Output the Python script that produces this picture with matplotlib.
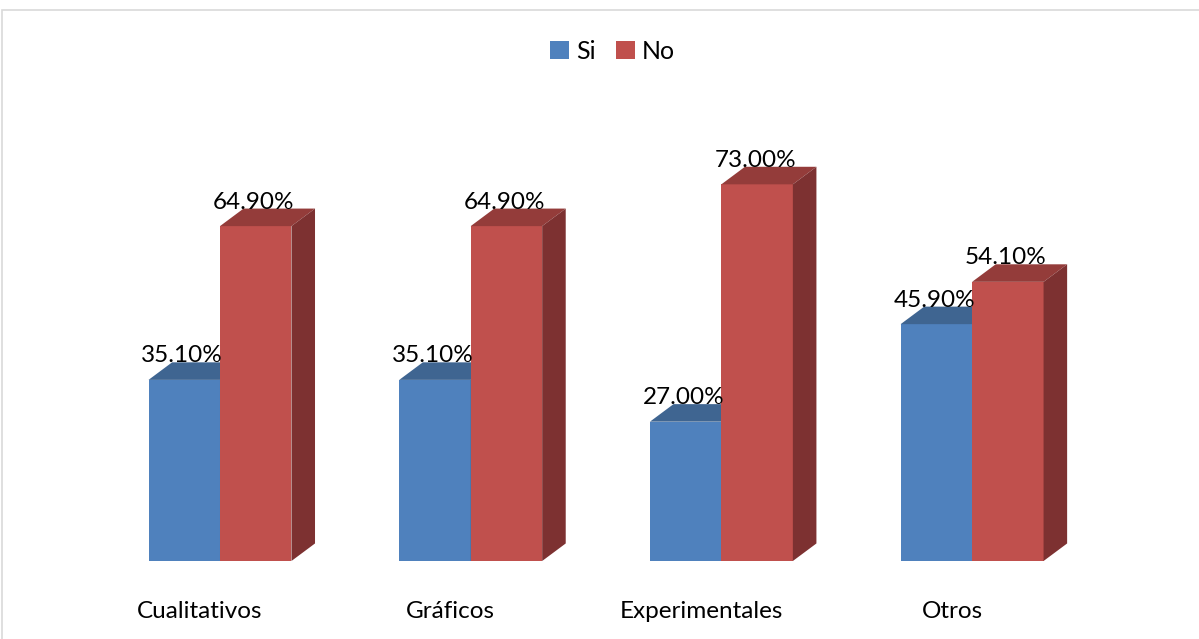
import numpy as np
import matplotlib.pyplot as plt
from matplotlib.patches import Polygon, Rectangle, Patch

plt.rcParams['font.family'] = ['Lato', 'DejaVu Sans']

# datos
categorias = ['Cualitativos', 'Gráficos', 'Experimentales', 'Otros']
si = [35.10, 35.10, 27.00, 45.90]
no = [64.90, 64.90, 73.00, 54.10]
series = ['Si', 'No']

# colores: frente, tapa, lateral
azul = ('#4F81BD', '#3F6591', '#385D8A')
rojo = ('#C0504D', '#943C3A', '#7D3131')

fig = plt.figure(figsize=(11.99, 6.39), dpi=100)
ax = fig.add_axes([0, 78 / 639, 1, 516 / 639])
ax.set_xlim(-0.8775, 3.905)
ax.set_ylim(0, 100)
ax.axis('off')

ancho = 0.285     # ancho de cada barra (unidades de categoria)
dx, dy = 0.094, 3.4   # profundidad del efecto 3D


def barra3d(x0, h, colores):
    frente, tapa, lado = colores
    ax.add_patch(Rectangle((x0, 0), ancho, h, facecolor=frente, edgecolor='none'))
    ax.add_patch(Polygon([(x0, h), (x0 + dx, h + dy), (x0 + ancho + dx, h + dy), (x0 + ancho, h)],
                         facecolor=tapa, edgecolor='none'))
    ax.add_patch(Polygon([(x0 + ancho, 0), (x0 + ancho + dx, dy), (x0 + ancho + dx, h + dy), (x0 + ancho, h)],
                         facecolor=lado, edgecolor='none'))
    # etiqueta del valor
    ax.text(x0 + ancho / 2 - 0.008, h + dy, f'{h:.2f}%', ha='center', va='baseline',
            fontsize=17.5, color='black')


x = np.arange(len(categorias))
for i in x:
    barra3d(i - ancho, si[i], azul)
    barra3d(i, no[i], rojo)

# nombres de categorias debajo de las barras
for i, c in enumerate(categorias):
    ax.text(i - 0.08, -9.7, c, ha='center', va='center', fontsize=17.5, clip_on=False)

# leyenda
manijas = [Patch(facecolor=azul[0]), Patch(facecolor=rojo[0])]
fig.legend(manijas, series, loc='center', bbox_to_anchor=(0.511, 0.92), ncol=2,
           frameon=False, fontsize=18, handlelength=0.75, handleheight=0.75,
           handletextpad=0.3, columnspacing=0.8)

# borde del area del grafico
fig.patches.append(Rectangle((2 / 1199, -0.1), 1.2, 1.1 - 10 / 639, transform=fig.transFigure,
                             facecolor='none', edgecolor='#D9D9D9', linewidth=1.2))

plt.savefig('out.png', dpi=100)
